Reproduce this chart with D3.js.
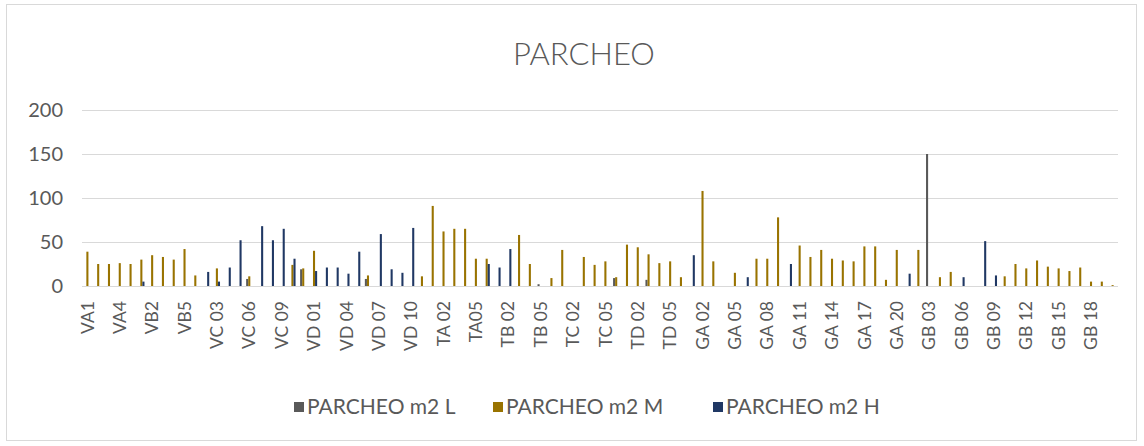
<!DOCTYPE html>
<html>
<head>
<meta charset="utf-8">
<script src="https://cdn.jsdelivr.net/npm/d3@7"></script>
<style>
  html, body { margin: 0; padding: 0; background: #fff; }
  svg { display: block; font-family: Lato, "Open Sans", sans-serif; }
</style>
</head>
<body>
<svg id="chart" width="1144" height="446"></svg>
<script>
// Stations, grouped by zone
const categories = [
  "VA1","VA2","VA3","VA4","VA5",
  "VB1","VB2","VB3","VB4","VB5",
  "VC 01","VC 02","VC 03","VC 04","VC 05","VC 06","VC 07","VC 08","VC 09","VC 10","VC 11",
  "VD 01","VD 02","VD 03","VD 04","VD 05","VD 06","VD 07","VD 08","VD 09","VD 10","VD 11",
  "TA 01","TA 02","TA 03","TA 04","TA05","TA 06",
  "TB 01","TB 02","TB 03","TB 04","TB 05","TB 06",
  "TC 01","TC 02","TC 03","TC 04","TC 05","TC 06",
  "TD 01","TD 02","TD 03","TD 04","TD 05","TD 06",
  "GA 01","GA 02","GA 03","GA 04","GA 05","GA 06","GA 07","GA 08","GA 09","GA 10",
  "GA 11","GA 12","GA 13","GA 14","GA 15","GA 16","GA 17","GA 18","GA 19","GA 20",
  "GB 01","GB 02","GB 03","GB 04","GB 05","GB 06","GB 07","GB 08","GB 09","GB 10",
  "GB 11","GB 12","GB 13","GB 14","GB 15","GB 16","GB 17","GB 18","GB 19","GB 20"
];

// Patch area (m2) per severity level
const parcheoL = [
  0,0,0,0,0,
  0,0,0,0,0,
  0,0,0,0,0,8,0,0,0,0,19,
  0,0,0,0,0,8,0,0,0,0,0,
  0,0,0,0,0,0,
  0,0,0,0,2,0,
  0,0,0,0,0,9,
  0,0,7,0,0,0,
  0,0,0,0,0,0,0,0,0,0,
  0,0,0,0,0,0,0,0,0,0,
  0,0,150,0,0,0,0,0,0,0,
  0,0,0,0,0,0,0,0,0,0
];
const parcheoM = [
  39,25,25,26,25,
  30,35,33,30,42,
  12,0,20,0,0,11,0,0,0,24,20,
  40,0,0,0,0,12,0,0,0,0,11,
  91,62,65,65,31,31,
  0,0,58,25,0,9,
  41,0,33,24,28,10,
  47,44,36,26,28,10,
  0,108,28,0,15,0,31,31,78,0,
  46,33,41,31,29,28,45,45,7,41,
  0,41,0,10,16,0,0,0,0,11,
  25,20,29,22,20,17,21,5,5,1
];
const parcheoH = [
  0,0,0,0,0,
  5,0,0,0,0,
  0,16,5,21,52,0,68,52,65,31,0,
  17,21,21,14,39,0,59,19,15,66,0,
  0,0,0,0,0,25,
  21,42,0,0,0,0,
  0,0,0,0,0,0,
  0,0,0,0,0,0,
  35,0,0,0,0,10,0,0,0,25,
  0,0,0,0,0,0,0,0,0,0,
  14,0,0,0,0,10,0,51,12,0,
  0,0,0,0,0,0,0,0,0,0
];

const seriesNames = ["PARCHEO m2 L", "PARCHEO m2 M", "PARCHEO m2 H"];
const seriesColors = ["#595959", "#997300", "#203864"];
const yTicks = [0, 50, 100, 150, 200];

const series = [parcheoL, parcheoM, parcheoH];
const rows = categories.map((c, i) => ({ cat: c, values: series.map(s => s[i]) }));

const svg = d3.select("#chart");
const plot = { left: 82, right: 1118, top: 110, bottom: 286 };

// chart frame
svg.append("rect")
  .attr("x", 6.5).attr("y", 4.5)
  .attr("width", 1130).attr("height", 436)
  .attr("fill", "#fff").attr("stroke", "#d9d9d9").attr("stroke-width", 1);

// title
svg.append("text")
  .attr("x", 584).attr("y", 65)
  .attr("text-anchor", "middle")
  .attr("font-size", 31).attr("font-weight", 300)
  .attr("fill", "#595959")
  .text("PARCHEO");

const x0 = d3.scaleBand().domain(categories).range([plot.left, plot.right]).padding(0);
const step = x0.bandwidth();
const groupW = step * 3 / (3 + 2.19);
const x1 = d3.scaleBand().domain([0, 1, 2])
  .range([(step - groupW) / 2, (step + groupW) / 2]).padding(0);
const y = d3.scaleLinear().domain([0, 200]).range([plot.bottom, plot.top]);

// gridlines
svg.append("g").selectAll("line").data(yTicks).join("line")
  .attr("x1", plot.left).attr("x2", plot.right)
  .attr("y1", d => Math.round(y(d)) + 0.5).attr("y2", d => Math.round(y(d)) + 0.5)
  .attr("stroke", "#d9d9d9").attr("stroke-width", 1);

// y axis labels
const yAxis = d3.axisLeft(y).tickValues(yTicks).tickSize(0).tickPadding(0);
const gy = svg.append("g").attr("transform", `translate(${plot.left - 19},0)`).call(yAxis);
gy.select(".domain").remove();
gy.selectAll("text").attr("font-size", 20).attr("fill", "#595959")
  .attr("font-family", "Lato, 'Open Sans', sans-serif");

// bars
svg.append("g").selectAll("g").data(rows).join("g")
  .attr("transform", d => `translate(${x0(d.cat)},0)`)
  .selectAll("rect").data(d => d.values.map((v, k) => ({ v, k }))).join("rect")
  .attr("x", d => x1(d.k))
  .attr("width", x1.bandwidth())
  .attr("y", d => y(d.v))
  .attr("height", d => y(0) - y(d.v))
  .attr("fill", d => seriesColors[d.k]);

// x axis labels, every third station
const xAxis = d3.axisBottom(x0)
  .tickValues(categories.filter((c, i) => i % 3 === 0))
  .tickSize(0).tickPadding(0);
const gx = svg.append("g").attr("transform", `translate(0,${plot.bottom + 15})`).call(xAxis);
gx.select(".domain").remove();
gx.selectAll("text")
  .attr("font-size", 17.5).attr("fill", "#595959")
  .attr("font-family", "Lato, 'Open Sans', sans-serif")
  .attr("text-anchor", "end")
  .attr("dy", "0.35em")
  .attr("transform", "rotate(-90)")
  .attr("x", 0).attr("y", 0);

// legend
const legendX = [294, 493, 713];
const lg = svg.append("g").selectAll("g").data(seriesNames).join("g")
  .attr("transform", (d, i) => `translate(${legendX[i]},407)`);
lg.append("rect").attr("x", 0).attr("y", -5).attr("width", 10).attr("height", 10)
  .attr("fill", (d, i) => seriesColors[i]);
lg.append("text").attr("x", 13).attr("y", 0).attr("dy", "0.35em")
  .attr("font-size", 21).attr("fill", "#595959")
  .text(d => d);
</script>
</body>
</html>
